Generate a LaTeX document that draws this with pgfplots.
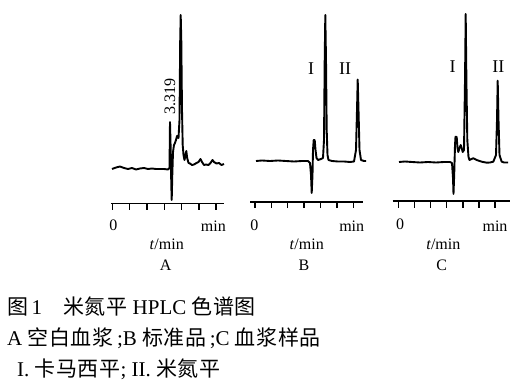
\documentclass[border=0pt]{standalone}
\usepackage{pgfplots}
\pgfplotsset{compat=1.18}
\usepackage{fontspec}
\setmainfont{Liberation Serif}
\newfontfamily\cjk[LetterSpace=3]{Noto Sans CJK SC}

\pgfplotsset{
  chrom/.style={
    axis x line*=bottom,
    axis y line=none,
    y=1bp,
    clip=false,
    xtick={0,1,2,3,4,5,6},
    xticklabel=\empty,
    tick align=outside,
    major tick length=6.5bp,
    every tick/.style={black, line width=1.4bp},
    axis line style={black, line width=1.6bp},
    anchor=south west,
  },
  trace/.style={black, line width=1.9bp, line join=round, no markers},
}

\begin{document}
\begin{tikzpicture}[x=1bp,y=1bp]
\path[use as bounding box] (0,0) rectangle (528,383);

% ---------------- Panel A ----------------
\begin{axis}[chrom, at={(111bp,179.7bp)}, x=17.3bp, xmin=-0.075, xmax=6.46, ymin=-34.3, ymax=160]
\addplot[trace] coordinates {
(-0.017,0) (0.214,1.5) (0.445,2.5) (0.676,1) (0.908,0) (1.139,1) (1.370,-0.5)
(1.601,0.5) (1.832,1) (2.064,0) (2.295,0.5) (2.526,0) (2.757,0) (2.988,0)
(3.220,-0.5) (3.306,1) (3.335,47) (3.376,19) (3.410,-16) (3.434,-31) (3.468,-6)
(3.509,17) (3.566,24) (3.624,26) (3.682,29) (3.740,33) (3.827,31) (3.884,49)
(3.925,129) (3.954,154) (3.988,129) (4.029,59) (4.069,24) (4.116,14) (4.173,9)
(4.231,14) (4.277,18) (4.329,11) (4.405,6) (4.491,5.5) (4.607,4) (4.723,4.5)
(4.867,6) (4.983,7) (5.098,10) (5.185,7) (5.301,4) (5.416,4.5) (5.561,4)
(5.676,6) (5.792,9) (5.879,7) (6.023,5.5) (6.168,6) (6.312,4) (6.457,5)
};
\end{axis}

% ---------------- Panel B ----------------
\begin{axis}[chrom, at={(250bp,181.3bp)}, x=16.38bp, xmin=-0.305, xmax=6.6, ymin=-40.7, ymax=150]
\addplot[trace] coordinates {
(0.061,0) (0.427,0.5) (0.916,0) (1.404,0.5) (1.893,0) (2.381,-0.5) (2.869,0)
(3.236,0) (3.358,-2) (3.419,-14) (3.462,-32) (3.510,-14) (3.541,11) (3.584,21)
(3.645,21) (3.694,11) (3.755,3) (3.846,1) (4.029,2) (4.151,3) (4.212,21)
(4.255,101) (4.292,146) (4.335,101) (4.377,31) (4.426,6) (4.487,1) (4.701,0)
(5.067,-0.5) (5.434,-0.5) (5.800,-1) (6.044,-0.5) (6.166,11) (6.227,51)
(6.270,81.5) (6.319,51) (6.380,11) (6.471,1) (6.654,0) (6.777,0)
};
\end{axis}

% ---------------- Panel C ----------------
\begin{axis}[chrom, at={(392.7bp,182bp)}, x=16.08bp, xmin=-0.36, xmax=6.95, ymin=-39, ymax=150]
\addplot[trace] coordinates {
(0.031,0) (0.404,0.5) (0.840,0) (1.337,-0.5) (1.835,0) (2.332,-0.5) (2.830,0)
(3.203,0) (3.327,-1) (3.389,-16) (3.420,-32) (3.464,-13) (3.514,17) (3.545,25.3)
(3.619,25) (3.669,14) (3.719,10) (3.794,14) (3.868,17) (3.930,14) (3.993,10)
(4.073,12) (4.136,82) (4.179,148) (4.223,82) (4.279,22) (4.353,5) (4.415,2)
(4.540,3) (4.652,3.7) (4.863,2) (5.174,0.3) (5.485,-0.7) (5.690,-0.5)
(5.896,0.3) (6.063,7) (6.126,42) (6.169,81.3) (6.219,42) (6.281,7) (6.418,0.3)
(6.561,-0.5) (6.810,-0.5)
};
\end{axis}

% ---------------- Labels ----------------
\begin{scope}[every node/.style={inner sep=0pt, font=\fontsize{16bp}{19bp}\selectfont}]
\node[rotate=90] at (170,287) {3.319};
\node at (113.3,157.3) {0};
\node at (213.3,157.3) {min};
\node at (166.7,138.7) {\textit{t}/min};
\node at (165.7,117.3) {A};

\node at (254.3,157.3) {0};
\node at (351.7,157.3) {min};
\node at (306.7,138.7) {\textit{t}/min};
\node at (304,117.3) {B};

\node at (400,158.7) {0};
\node at (495,157.3) {min};
\node at (443.3,138.7) {\textit{t}/min};
\node at (441.7,117.3) {C};
\end{scope}

\begin{scope}[every node/.style={inner sep=0pt, font=\fontsize{18bp}{21bp}\selectfont}]
\node at (311,314.7) {I};
\node at (345,314.7) {II};
\node at (452.7,316.3) {I};
\node at (498.3,316.3) {II};
\end{scope}

% ---------------- Caption ----------------
\begin{scope}[every node/.style={inner sep=0pt, anchor=base west, font=\fontsize{21bp}{25bp}\selectfont}]
\node at (7,69) {{\cjk 图}\,1\hspace{1em}{\cjk 米氮平} HPLC {\cjk 色谱图}};
\node at (7,38) {A {\cjk 空白血浆}\,;B {\cjk 标准品}\,;C {\cjk 血浆样品}};
\node at (17,6.3) {I. {\cjk 卡马西平}; II. {\cjk 米氮平}};
\end{scope}
\end{tikzpicture}
\end{document}
